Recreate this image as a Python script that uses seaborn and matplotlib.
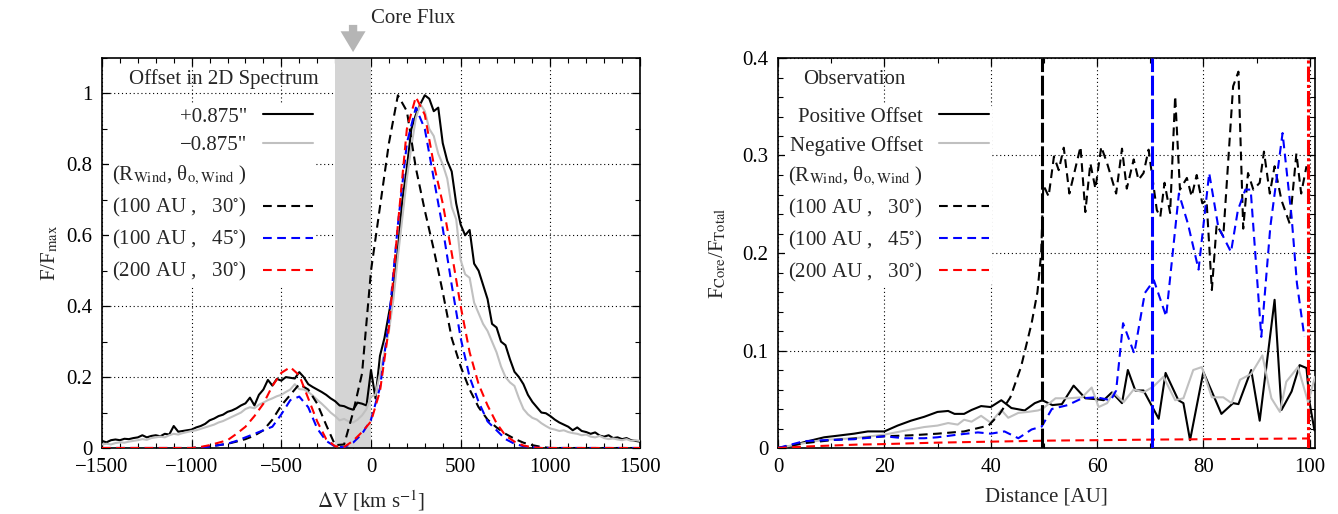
import numpy as np
import matplotlib
matplotlib.use("Agg")
import matplotlib.pyplot as plt
import seaborn as sns
from matplotlib.lines import Line2D
from matplotlib.ticker import MultipleLocator, FuncFormatter
import matplotlib.transforms as mtransforms

# ---------------- data: left panel (spectra) ----------------
v_obs = np.arange(-1500, 1501, 25)
f_pos_spec = [
    0.020, 0.016, 0.022, 0.024, 0.022, 0.026, 0.025, 0.028, 0.030, 0.036,
    0.030, 0.034, 0.036, 0.033, 0.040, 0.038, 0.062, 0.046, 0.048, 0.050,
    0.052, 0.058, 0.062, 0.068, 0.078, 0.083, 0.090, 0.094, 0.102, 0.106,
    0.112, 0.120, 0.126, 0.142, 0.120, 0.150, 0.165, 0.192, 0.176, 0.195,
    0.190, 0.200, 0.198, 0.196, 0.214, 0.200, 0.180, 0.172, 0.165, 0.158,
    0.150, 0.140, 0.132, 0.120, 0.118, 0.112, 0.108, 0.128, 0.125, 0.120,
    0.220, 0.140, 0.260, 0.310, 0.380, 0.450, 0.560, 0.700, 0.790, 0.900,
    0.940, 0.970, 0.995, 0.985, 0.950, 0.960, 0.860, 0.810, 0.780, 0.690,
    0.630, 0.600, 0.615, 0.520, 0.500, 0.460, 0.420, 0.350, 0.340, 0.300,
    0.290, 0.250, 0.215, 0.200, 0.180, 0.150, 0.130, 0.115, 0.100, 0.098,
    0.090, 0.080, 0.072, 0.066, 0.060, 0.050, 0.058, 0.048, 0.045, 0.040,
    0.044, 0.035, 0.032, 0.036, 0.028, 0.030, 0.025, 0.028, 0.022, 0.020,
    0.018]
f_neg_spec = [
    0.010, 0.012, 0.010, 0.014, 0.016, 0.015, 0.018, 0.020, 0.022, 0.025,
    0.023, 0.028, 0.030, 0.032, 0.030, 0.036, 0.040, 0.038, 0.042, 0.045,
    0.048, 0.050, 0.054, 0.058, 0.062, 0.066, 0.072, 0.076, 0.082, 0.088,
    0.094, 0.100, 0.110, 0.115, 0.112, 0.122, 0.128, 0.135, 0.140, 0.146,
    0.150, 0.158, 0.165, 0.180, 0.166, 0.165, 0.158, 0.148, 0.136, 0.125,
    0.113, 0.100, 0.090, 0.078, 0.082, 0.075, 0.072, 0.080, 0.092, 0.110,
    0.145, 0.150, 0.210, 0.270, 0.330, 0.420, 0.540, 0.650, 0.760, 0.850,
    0.930, 0.970, 0.950, 0.900, 0.880, 0.830, 0.800, 0.760, 0.680, 0.645,
    0.530, 0.490, 0.480, 0.410, 0.380, 0.350, 0.330, 0.300, 0.270, 0.230,
    0.200, 0.185, 0.175, 0.140, 0.110, 0.095, 0.085, 0.080, 0.070, 0.062,
    0.055, 0.052, 0.048, 0.050, 0.045, 0.042, 0.040, 0.036, 0.038, 0.032,
    0.030, 0.034, 0.028, 0.025, 0.027, 0.024, 0.022, 0.025, 0.020, 0.022,
    0.020]

v_mod = np.arange(-1500, 1501, 50)
f_m100_30 = [0.0] * 10 + [
    0.000, 0.002, 0.005, 0.008, 0.012, 0.018, 0.025, 0.035, 0.050, 0.080,
    0.120, 0.150, 0.180, 0.165, 0.125, 0.065, 0.008, 0.010, 0.100, 0.210,
    0.500, 0.680, 0.860, 0.995, 0.950, 0.790, 0.670, 0.560, 0.440, 0.310,
    0.230, 0.165, 0.115, 0.080, 0.058, 0.040, 0.026, 0.015, 0.008, 0.003,
] + [0.0] * 11
f_m100_45 = [0.0] * 10 + [
    0.000, 0.001, 0.004, 0.008, 0.012, 0.020, 0.030, 0.040, 0.050, 0.060,
    0.095, 0.135, 0.145, 0.115, 0.055, 0.020, 0.004, 0.002, 0.015, 0.040,
    0.080, 0.170, 0.360, 0.630, 0.860, 0.960, 0.900, 0.760, 0.620, 0.460,
    0.310, 0.200, 0.130, 0.075, 0.050, 0.025, 0.012, 0.005, 0.002, 0.000,
] + [0.0] * 11
f_m200_30 = [0.0] * 10 + [
    0.000, 0.003, 0.008, 0.015, 0.022, 0.040, 0.060, 0.090, 0.125, 0.175,
    0.212, 0.228, 0.205, 0.140, 0.075, 0.025, 0.005, 0.003, 0.020, 0.045,
    0.075, 0.160, 0.340, 0.630, 0.900, 0.990, 0.940, 0.800, 0.690, 0.550,
    0.400, 0.270, 0.180, 0.120, 0.070, 0.035, 0.018, 0.007, 0.002, 0.000,
] + [0.0] * 11
core_band = [-200, 0]
core_arrow_v = -100

# ---------------- data: right panel (core fraction) ----------------
d_pos = [0, 2.4, 4.9, 6.8, 8.7, 11.2, 14.3, 16.9, 20, 22.5, 25, 27.5, 30, 32,
         33.2, 35, 36.4, 38.2, 40, 42, 43.9, 46.4, 48.3, 49.7, 51.6, 53.4,
         55.6, 57.8, 60, 61.25, 62.8, 64.7, 65.8, 67.2, 68.75, 71.6, 72.9,
         75.3, 76.25, 77.5, 80, 83.4, 85.6, 86.6, 89, 90.6, 93.4, 94.7, 96.6,
         98.1, 99.4, 100, 100.9]
f_pos = [0, 0.002, 0.006, 0.0085, 0.011, 0.0126, 0.0147, 0.017, 0.017, 0.023,
         0.028, 0.032, 0.037, 0.038, 0.035, 0.035, 0.039, 0.043, 0.042, 0.049,
         0.041, 0.0385, 0.046, 0.049, 0.044, 0.045, 0.064, 0.051, 0.050, 0.049,
         0.057, 0.046, 0.080, 0.059, 0.059, 0.030, 0.077, 0.049, 0.046, 0.008,
         0.078, 0.035, 0.046, 0.045, 0.080, 0.028, 0.152, 0.039, 0.058, 0.085,
         0.082, 0.046, 0.018]
d_neg = [0, 4.9, 8.7, 14.3, 20, 25, 27.5, 30, 32, 33.8, 35, 36.4, 38.2, 40,
         42, 43.3, 45.2, 47, 48.9, 49.7, 52.2, 54.7, 57.2, 59, 60.3, 61.9,
         63.1, 65, 66.9, 68.75, 70.6, 72.5, 74.7, 76.25, 78.1, 79.7, 81.6,
         83.75, 85.3, 86.9, 89, 91.1, 92.8, 94.4, 95.6, 97.8, 99.7, 101]
f_neg = [0, 0.005, 0.0085, 0.010, 0.0137, 0.019, 0.0215, 0.023, 0.0256, 0.024,
         0.029, 0.027, 0.033, 0.026, 0.039, 0.031, 0.036, 0.037, 0.0385, 0.040,
         0.051, 0.051, 0.052, 0.062, 0.042, 0.046, 0.057, 0.047, 0.060, 0.057,
         0.063, 0.073, 0.049, 0.051, 0.080, 0.083, 0.052, 0.052, 0.046, 0.070,
         0.076, 0.095, 0.051, 0.037, 0.068, 0.083, 0.047, 0.073]
d_m100_30 = [0, 5, 10, 15, 20, 25, 30, 35, 39.6, 41.7, 43.7, 45.7, 47.7, 48.8,
             49.5, 49.9, 50.9, 51.9, 52.8, 53.75, 54.8, 56.9, 57.8, 58.75,
             59.7, 60.8, 61.9, 63.6, 64.7, 65.6, 66.9, 67.8, 68.75, 69.7,
             71.25, 71.9, 72.7, 73.75, 74.7, 75.6, 76.9, 77.8, 78.75, 79.8,
             80.6, 81.6, 82.5, 83.75, 85.6, 86.6, 87.5, 88.4, 89.4, 90.6,
             91.4, 92.5, 93.4, 94.7, 96.25, 97.5, 98.4, 99.4]
f_m100_30_r = [0, 0.005, 0.008, 0.010, 0.012, 0.013, 0.0147, 0.017, 0.023,
               0.035, 0.052, 0.083, 0.128, 0.160, 0.200, 0.270, 0.258, 0.299,
               0.285, 0.308, 0.261, 0.309, 0.242, 0.292, 0.266, 0.309, 0.292,
               0.261, 0.307, 0.266, 0.296, 0.275, 0.282, 0.306, 0.244, 0.237,
               0.272, 0.241, 0.361, 0.265, 0.277, 0.258, 0.280, 0.251, 0.254,
               0.162, 0.229, 0.217, 0.371, 0.386, 0.225, 0.282, 0.265, 0.272,
               0.304, 0.261, 0.289, 0.254, 0.230, 0.302, 0.261, 0.289]
d_m100_45 = [0, 4.9, 8.7, 14.3, 20, 23.8, 27.5, 30, 33.8, 37.6, 40, 42.6, 45.2,
             47.7, 49.6, 51.5, 54.5, 57.2, 59.9, 62.6, 63.6, 64.9, 67, 69, 70.7,
             73, 75.4, 77.1, 79.1, 81.1, 82.8, 85.2, 86.5, 87.9, 88.9, 90.9,
             92.6, 94.9, 96.6, 97.6, 99]
f_m100_45_r = [0, 0.007, 0.008, 0.009, 0.012, 0.010, 0.010, 0.011, 0.0137,
               0.016, 0.0147, 0.017, 0.010, 0.019, 0.022, 0.040, 0.044, 0.051,
               0.052, 0.049, 0.059, 0.128, 0.097, 0.159, 0.172, 0.135, 0.261,
               0.230, 0.183, 0.282, 0.227, 0.201, 0.244, 0.265, 0.265, 0.114,
               0.227, 0.323, 0.237, 0.169, 0.114]
d_m200_30 = [0, 5, 10, 15, 20, 25, 30, 35, 40, 45, 50, 55, 60, 65, 70, 75, 80,
             85, 90, 95, 100]
f_m200_30_r = [0, 0.0015, 0.0025, 0.0035, 0.004, 0.0048, 0.0055, 0.006,
               0.0065, 0.007, 0.0075, 0.0078, 0.008, 0.0083, 0.0086, 0.0088,
               0.009, 0.0092, 0.0094, 0.0096, 0.0098]
r_edges = [49.7, 70.3, 99.7]

# ---------------- style ----------------
sns.set_theme(style="ticks")
plt.rcParams["font.family"] = ["Liberation Serif", "DejaVu Serif"]
plt.rcParams["mathtext.fontset"] = "stix"
plt.rcParams["axes.unicode_minus"] = True
FS = 15

BLACK, GREY, BLUE, RED = "#000000", "#c0c0c0", "#0000ff", "#ff0000"
LW = 1.5
DASH = (0, (4.2, 2.6))

fig = plt.figure(figsize=(13.38, 5.14), dpi=100)
ax1 = fig.add_axes([102 / 1338, 66 / 514, 538 / 1338, 390 / 514])
ax2 = fig.add_axes([778 / 1338, 66 / 514, 537 / 1338, 390 / 514])


def draw(ax, x, y, color, ls, lw=LW, z=3):
    sns.lineplot(x=np.asarray(x, float), y=np.asarray(y, float), ax=ax,
                 color=color, linestyle=ls, linewidth=lw, sort=False,
                 estimator=None, errorbar=None, legend=False, zorder=z)


def style_axes(ax):
    for s in ax.spines.values():
        s.set_visible(True)
        s.set_color("black")
        s.set_linewidth(1.2)
    ax.tick_params(which="both", direction="in", top=True, right=True,
                   labelsize=FS, pad=7, colors="black")
    ax.tick_params(which="major", length=6, width=0.9)
    ax.tick_params(which="minor", length=3.5, width=0.8)
    ax.grid(True, which="major", color="black", linestyle=(0, (1, 2.5)),
            linewidth=0.8)
    ax.set_axisbelow(True)
    ax.set_facecolor("white")


fmt = FuncFormatter(lambda v, p: f"{v:g}".replace("-", "\u2212"))

# ---------------- left panel ----------------
ax1.axvspan(core_band[0], core_band[1], color="#d4d4d4", lw=0, zorder=1)
draw(ax1, v_obs, f_pos_spec, BLACK, "-")
draw(ax1, v_obs, f_neg_spec, GREY, "-")
draw(ax1, v_mod, f_m100_30, BLACK, DASH)
draw(ax1, v_mod, f_m100_45, BLUE, DASH)
draw(ax1, v_mod, f_m200_30, RED, DASH)
ax1.set_xlim(-1500, 1500)
ax1.set_ylim(0, 1.1)
ax1.xaxis.set_major_locator(MultipleLocator(500))
ax1.xaxis.set_minor_locator(MultipleLocator(100))
ax1.yaxis.set_major_locator(MultipleLocator(0.2))
ax1.yaxis.set_minor_locator(MultipleLocator(0.1))
ax1.xaxis.set_major_formatter(fmt)
ax1.yaxis.set_major_formatter(fmt)
style_axes(ax1)
ax1.set_xlabel(r"$\Delta$V [km s$^{-1}$]", fontsize=FS, labelpad=8)
ax1.set_ylabel(r"F/F$_{\rm max}$", fontsize=FS, labelpad=4)

trans1 = mtransforms.blended_transform_factory(ax1.transData, ax1.transAxes)
ax1.annotate("", xy=(core_arrow_v, 1.008), xycoords=trans1,
             xytext=(core_arrow_v, 1.092), textcoords=trans1,
             arrowprops=dict(arrowstyle="simple,head_width=0.9,head_length=0.75,tail_width=0.3",
                             color="#b5b5b5", lw=0, mutation_scale=20),
             annotation_clip=False)
ax1.text(0, 1.10, "Core Flux", transform=trans1, fontsize=FS,
         ha="left", va="center", clip_on=False)

lab_model = [r"(100 AU ,   30$^{\circ}$)", r"(100 AU ,   45$^{\circ}$)",
             r"(200 AU ,   30$^{\circ}$)"]
lab_head = r"(R$_{\rm Wind}$, θ$_{\rm o,Wind}$ )"


def handles(first_two):
    h = [Line2D([], [], color=BLACK, lw=LW), Line2D([], [], color=GREY, lw=LW),
         Line2D([], [], color="none"),
         Line2D([], [], color=BLACK, lw=LW, linestyle=DASH),
         Line2D([], [], color=BLUE, lw=LW, linestyle=DASH),
         Line2D([], [], color=RED, lw=LW, linestyle=DASH)]
    labels = first_two + [lab_head] + lab_model
    return h, labels


def add_legend(ax, first_two, anchor):
    h, l = handles(first_two)
    leg = ax.legend(h, l, loc="upper right", bbox_to_anchor=anchor,
                    markerfirst=False, frameon=True, facecolor="white",
                    edgecolor="none", framealpha=1, fontsize=FS,
                    handlelength=2.4, handletextpad=0.75, labelspacing=0.43,
                    borderpad=0.15, borderaxespad=0)
    leg.set_zorder(5)
    return leg


add_legend(ax1, ['+0.875"', '\u22120.875"'], (0.398, 0.882))
ax1.text(0.227, 0.945, "Offset in 2D Spectrum", transform=ax1.transAxes,
         fontsize=FS, ha="center", va="center", zorder=6)

# ---------------- right panel ----------------
draw(ax2, d_pos, f_pos, BLACK, "-")
draw(ax2, d_neg, f_neg, GREY, "-")
draw(ax2, d_m100_30, f_m100_30_r, BLACK, DASH)
draw(ax2, d_m100_45, f_m100_45_r, BLUE, DASH)
draw(ax2, d_m200_30, f_m200_30_r, RED, DASH)
for xe, c, ls in zip(r_edges, [BLACK, BLUE, RED],
                     [(0, (6.5, 1.2)), (0, (6.5, 1.2)), (0, (5, 1, 1, 1))]):
    ax2.axvline(xe, color=c, linestyle=ls, linewidth=2.2, zorder=4)
ax2.set_xlim(0, 101)
ax2.set_ylim(0, 0.4)
ax2.xaxis.set_major_locator(MultipleLocator(20))
ax2.xaxis.set_minor_locator(MultipleLocator(10))
ax2.yaxis.set_major_locator(MultipleLocator(0.1))
ax2.yaxis.set_minor_locator(MultipleLocator(0.02))
ax2.xaxis.set_major_formatter(fmt)
ax2.yaxis.set_major_formatter(fmt)
style_axes(ax2)
ax2.set_xlabel("Distance [AU]", fontsize=FS, labelpad=8)
ax2.set_ylabel(r"F$_{\rm Core}$/F$_{\rm Total}$", fontsize=FS, labelpad=10)

add_legend(ax2, ["Positive Offset", "Negative Offset"], (0.3985, 0.882))
ax2.text(0.143, 0.945, "Observation", transform=ax2.transAxes,
         fontsize=FS, ha="center", va="center", zorder=6)

fig.savefig("out.png", dpi=100, facecolor="white")
